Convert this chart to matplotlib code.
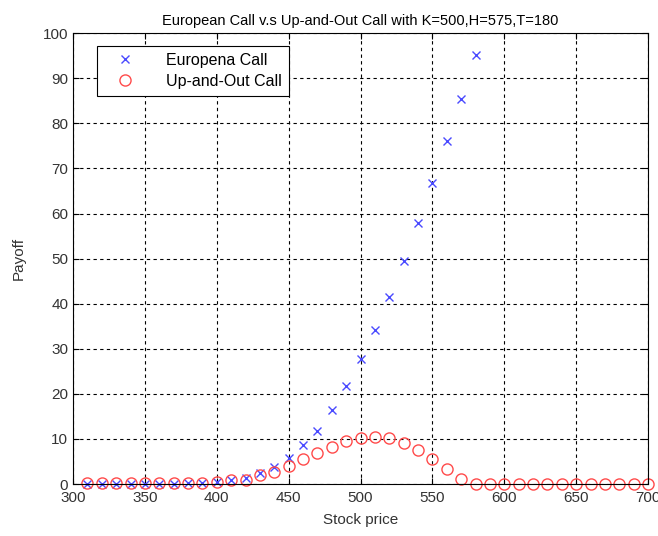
import numpy as np
import matplotlib
matplotlib.use("Agg")
import matplotlib.pyplot as plt

plt.rcParams['font.family'] = ['Liberation Sans', 'DejaVu Sans']

# stock prices and payoffs
prices_eu = [310, 320, 330, 340, 350, 360, 370, 380, 390, 400, 410, 420, 430, 440,
             450, 460, 470, 480, 490, 500, 510, 520, 530, 540, 550, 560, 570, 580]
payoff_eu = [0.1, 0.1, 0.1, 0.1, 0.1, 0.1, 0.1, 0.2, 0.3, 0.5, 1.0, 1.4, 2.4, 3.7,
             5.8, 8.6, 11.8, 16.4, 21.7, 27.7, 34.1, 41.5, 49.4, 57.8, 66.7, 76.1, 85.4, 95.1]

prices_uo = list(range(310, 710, 10))
payoff_uo = [0.15, 0.15, 0.15, 0.15, 0.15, 0.15, 0.15, 0.15, 0.2, 0.5, 0.9, 1.0, 2.0, 2.7,
             4.0, 5.5, 6.9, 8.3, 9.5, 10.2, 10.5, 10.1, 9.0, 7.5, 5.5, 3.4, 1.2, 0.0,
             0.0, 0.0, 0.0, 0.0, 0.0, 0.0, 0.0, 0.0, 0.0, 0.0, 0.0, 0.0]

fig = plt.figure(figsize=(6.58, 5.36), dpi=100)
ax = fig.add_axes([0.111, 0.097, 0.874, 0.841])

ax.plot(prices_eu, payoff_eu, 'x', color='#4a4aff', markersize=5.5, markeredgewidth=1.0,
        label='Europena Call', clip_on=False)
ax.plot(prices_uo, payoff_uo, 'o', color='#ff4a4a', markerfacecolor='none', markersize=8,
        markeredgewidth=1.0, label='Up-and-Out Call', clip_on=False)

ax.set_xlim(300, 700)
ax.set_ylim(0, 100)
ax.set_xticks(np.arange(300, 701, 50))
ax.set_yticks(np.arange(0, 101, 10))
ax.tick_params(direction='in', top=True, right=True, labelsize=11, length=4,
               labelcolor='#333333')
ax.tick_params(axis='x', pad=5)
ax.grid(True, color='black', linestyle=(0, (3, 3)), linewidth=0.8)
for s in ax.spines.values():
    s.set_linewidth(0.8)

ax.set_title('European Call v.s Up-and-Out Call with K=500,H=575,T=180', fontsize=10.5, pad=6)
ax.set_xlabel('Stock price', fontsize=11, labelpad=6, color='#333333')
ax.set_ylabel('Payoff', fontsize=11, labelpad=12, color='#333333')

leg = ax.legend(loc='upper left', bbox_to_anchor=(0.027, 0.99), fontsize=11.5, fancybox=False,
                edgecolor='black', framealpha=1, borderpad=0.45, handletextpad=1.3,
                handlelength=2.6, labelspacing=0.35)
leg.get_frame().set_linewidth(0.8)

fig.savefig('out.png', dpi=100)
